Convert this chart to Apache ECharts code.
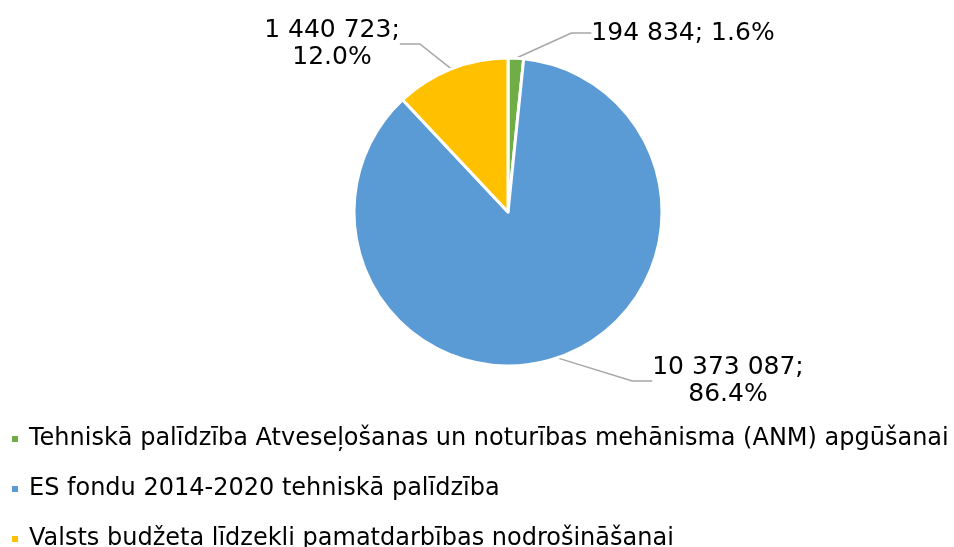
<!DOCTYPE html>
<html>
<head>
<meta charset="utf-8">
<script src="https://cdn.jsdelivr.net/npm/echarts@6/dist/echarts.min.js"></script>
<style>
  html, body { margin: 0; padding: 0; background: #fff; }
  #chart { width: 954px; height: 547px; }
</style>
</head>
<body>
<div id="chart"></div>
<script>
const categories = [
  'Tehniskā palīdzība Atveseļošanas un noturības mehānisma (ANM) apgūšanai',
  'ES fondu 2014-2020 tehniskā palīdzība',
  'Valsts budžeta līdzekļi pamatdarbības nodrošināšanai',
];
const values = [194834, 10373087, 1440723];
const percents = ['1.6%', '86.4%', '12.0%'];
const colors = ['#70ad47', '#5b9bd5', '#ffc000'];

// where each label block sits (centre of the text)
const labelSpots = [
  { x: 683, y: 33 },
  { x: 728, y: 381 },
  { x: 332, y: 44 },
];

function formatInt(value) {
  return String(value).replace(/\B(?=(\d{3})+(?!\d))/g, ' ');
}

const chart = echarts.init(document.getElementById('chart'));

chart.setOption({
  animation: false,
  color: colors,
  legend: {
    orient: 'vertical',
    left: 5,
    top: 422,
    height: 300,
    padding: 5,
    itemWidth: 8,
    itemHeight: 8,
    itemGap: 26,
    icon: 'rect',
    textStyle: {
      fontFamily: 'DejaVu Sans',
      fontSize: 24,
      lineHeight: 24,
      color: '#000',
      padding: [0, 0, 0, 5],
    },
    data: categories,
  },
  series: [
    {
      type: 'pie',
      center: [508, 212],
      radius: 154,
      startAngle: 90,
      itemStyle: { borderColor: '#fff', borderWidth: 3 },
      label: {
        show: true,
        fontFamily: 'DejaVu Sans',
        fontSize: 25,
        color: '#000',
        lineHeight: 27,
        align: 'center',
        formatter: (p) => {
          const txt = formatInt(values[p.dataIndex]) + ';';
          return p.dataIndex === 0 ? `${txt} ${percents[0]}` : `${txt}\n${percents[p.dataIndex]}`;
        },
      },
      labelLine: {
        show: true,
        length: 20,
        length2: 20,
        lineStyle: { color: '#a6a6a6', width: 1.5 },
      },
      labelLayout: (params) => ({
        x: labelSpots[params.dataIndex].x,
        y: labelSpots[params.dataIndex].y,
        align: 'center',
        verticalAlign: 'middle',
      }),
      data: categories.map((name, i) => ({ name, value: values[i] })),
    },
  ],
});
</script>
</body>
</html>
